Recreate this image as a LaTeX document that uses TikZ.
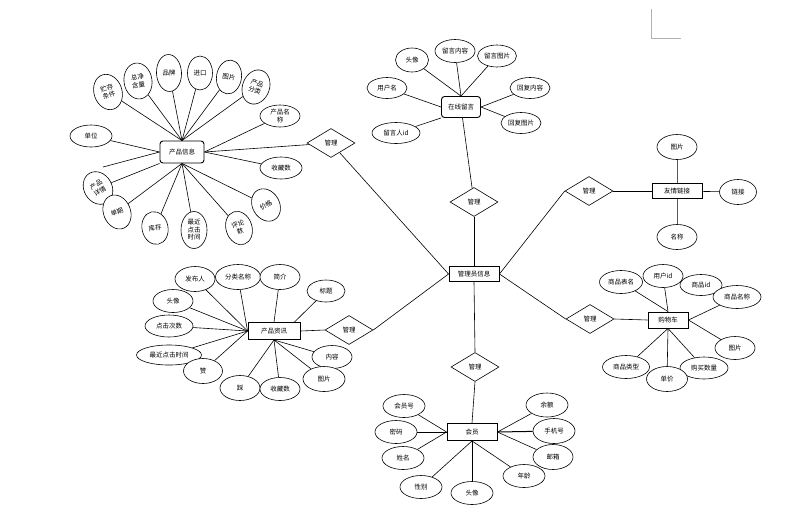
\documentclass[tikz,border=0pt]{standalone}
\usepackage{fontspec}
\newfontfamily\cjk{Noto Sans CJK SC}
\usetikzlibrary{shapes.geometric}
\pgfdeclarelayer{bg}
\pgfsetlayers{bg,main}
\tikzset{
  txt/.style={font=\cjk\fontsize{6.5}{7.5}\selectfont, align=center},
  attr/.style={txt, draw, fill=white, ellipse, line width=0.6pt, inner sep=0pt, minimum width=40pt, minimum height=23pt},
  ent/.style={txt, draw, fill=white, line width=0.9pt, inner sep=0pt, minimum width=50pt, minimum height=15pt},
  rel/.style={txt, draw, fill=white, diamond, aspect=1.6, line width=0.6pt, inner sep=0pt, minimum width=48pt, minimum height=29pt},
  conn/.style={line width=0.6pt, black},
}
\begin{document}
\begin{tikzpicture}[x=1pt,y=-1pt]
\useasboundingbox (0,0) rectangle (794,515);
% page corner mark
\draw[gray!60, line width=0.6pt] (651,9) -- (651,38) -- (681,38);

% ---------- central admin ----------
\node[ent] (ad) at (474,274) {管理员信息};
\node[rel] (r1) at (331,143) {管理};
\node[rel] (r2) at (474,202) {管理};
\node[rel] (r3) at (589,191) {管理};
\node[rel] (r4) at (590,319) {管理};
\node[rel] (r5) at (475,367) {管理};
\node[rel] (r6) at (349,330) {管理};

% ---------- product info ----------
\node[ent, rounded corners=3pt, minimum width=44pt, minimum height=22pt] (pi) at (182,152) {产品信息};
\node[attr, rotate=18, minimum width=28pt, minimum height=36pt] (a1) at (108,92) {贮存\\条件};
\node[attr, rotate=8, minimum width=28pt, minimum height=36pt] (a2) at (138,81) {总净\\含量};
\node[attr, rotate=3, minimum width=25pt, minimum height=37pt] (a3) at (169,73) {品牌};
\node[attr, minimum width=25pt, minimum height=34pt] (a4) at (200,73) {进口};
\node[attr, rotate=-8, minimum width=25pt, minimum height=34pt] (a5) at (229,77) {图片};
\node[attr, rotate=-20, minimum width=27pt, minimum height=35pt] (a6) at (256,87) {产品\\分类};
\node[attr, minimum width=40pt, minimum height=22pt] (a7) at (280,116) {产品名\\称};
\node[attr, minimum width=42pt, minimum height=22pt] (a8) at (91,136) {单位};
\node[attr, minimum width=42pt, minimum height=22pt] (a9) at (281,168) {收藏数};
\node[attr, rotate=30, minimum width=28pt, minimum height=34pt] (a10) at (98,188) {产品\\详情};
\node[attr, rotate=22, minimum width=27pt, minimum height=35pt] (a11) at (117,212) {单期};
\node[attr, rotate=12, minimum width=26pt, minimum height=33pt] (a12) at (155,228) {库存};
\node[attr, minimum width=26pt, minimum height=37pt] (a13) at (194,230) {最近\\点击\\时间};
\node[attr, rotate=18, minimum width=26pt, minimum height=34pt] (a14) at (239,228) {评论\\数};
\node[attr, rotate=30, minimum width=27pt, minimum height=34pt] (a15) at (266,205) {价格};
\coordinate (d1) at (103,167);

% ---------- online messages ----------
\node[ent, rounded corners=3pt, minimum width=39pt, minimum height=21pt] (ol) at (461,107) {在线留言};
\node[attr, minimum width=33pt, minimum height=24pt] (o1) at (412,60) {头像};
\node[attr, minimum width=40pt, minimum height=23pt] (o2) at (455,51) {留言内容};
\node[attr, minimum width=39pt, minimum height=22pt] (o3) at (497,56) {留言图片};
\node[attr, minimum width=40pt, minimum height=21pt] (o4) at (387,88) {用户名};
\node[attr, minimum width=40pt, minimum height=21pt] (o5) at (530,88) {回复内容};
\node[attr, minimum width=40pt, minimum height=21pt] (o6) at (521,123) {回复图片};
\node[attr, minimum width=48pt, minimum height=21pt] (o7) at (396,133) {留言人id};

% ---------- friend links ----------
\node[ent] (fl) at (677,191) {友情链接};
\node[attr, minimum height=25pt] (f1) at (677,147) {图片};
\node[attr, minimum width=37pt, minimum height=25pt] (f2) at (738,192) {链接};
\node[attr, minimum height=25pt] (f3) at (677,237) {名称};

% ---------- shopping cart ----------
\node[ent, minimum width=40pt, minimum height=16pt] (ct) at (668,320) {购物车};
\node[attr, minimum width=43pt] (c1) at (621,282) {商品表名};
\node[attr] (c2) at (663,276) {用户id};
\node[attr, minimum width=42pt, minimum height=21pt] (c3) at (701,285) {商品id};
\node[attr, minimum width=48pt] (c4) at (737,297) {商品名称};
\node[attr] (c5) at (735,348) {图片};
\node[attr, minimum width=48pt, minimum height=22pt] (c6) at (704,368) {购买数量};
\node[attr, minimum width=41pt, minimum height=25pt] (c7) at (667,379) {单价};
\node[attr, minimum width=47pt] (c8) at (626,367) {商品类型};

% ---------- member ----------
\node[ent, minimum height=17pt] (mb) at (472,432) {会员};
\node[attr, minimum width=42pt] (m1) at (404,406) {会员号};
\node[attr, minimum width=42pt] (m2) at (396,432) {密码};
\node[attr, minimum width=42pt] (m3) at (403,458) {姓名};
\node[attr, minimum width=42pt] (m4) at (421,487) {性别};
\node[attr, minimum width=42pt] (m5) at (472,493) {头像};
\node[attr, minimum width=42pt] (m6) at (524,476) {年龄};
\node[attr, minimum width=40pt, minimum height=25pt] (m7) at (553,457) {邮箱};
\node[attr, minimum width=42pt, minimum height=25pt] (m8) at (554,431) {手机号};
\node[attr, minimum width=42pt, minimum height=24pt] (m9) at (547,405) {余额};

% ---------- product news ----------
\node[ent, minimum width=52pt, minimum height=17pt] (pr) at (274,331) {产品资讯};
\node[attr, minimum height=25pt] (n1) at (195,279) {发布人};
\node[attr, minimum width=45pt, minimum height=25pt] (n2) at (238,277) {分类名称};
\node[attr, minimum height=25pt] (n3) at (280,277) {简介};
\node[attr, minimum width=38pt, minimum height=22pt] (n4) at (326,291) {标题};
\node[attr] (n5) at (173,301) {头像};
\node[attr, minimum width=48pt, minimum height=22pt] (n6) at (169,326) {点击次数};
\node[attr, minimum width=65pt, minimum height=20pt] (n7) at (169,355) {最近点击时间};
\node[attr, minimum width=39pt, minimum height=25pt] (n8) at (203,371) {赞};
\node[attr, minimum height=25pt] (n9) at (240,388) {踩};
\node[attr] (n10) at (280,389) {收藏数};
\node[attr, minimum width=40pt, minimum height=23pt] (n12) at (332,357) {内容};
\node[attr, minimum width=42pt, minimum height=25pt] (n11) at (324,379) {图片};

\begin{pgfonlayer}{bg}
% admin relations
\draw[conn] (pi.east) -- (r1);
\draw[conn] (r1) -- (ad.west);
\draw[conn] (ol) -- (r2);
\draw[conn] (r2) -- (ad);
\draw[conn] (ad.east) -- (r3.west);
\draw[conn] (r3.east) -- (fl.west);
\draw[conn] (ad.east) -- (r4.west);
\draw[conn] (r4.east) -- (ct.west);
\draw[conn] (ad.south) -- (r5.north);
\draw[conn] (r5.south) -- (mb.north);
\draw[conn] (pr.east) -- (r6.west);
\draw[conn] (r6.east) -- (ad.west);
% product info
\foreach \a in {a1,a2,a3,a4,a5,a6} \draw[conn] (\a) -- (pi.north);
\foreach \a in {a11,a12,a13,a14,a15} \draw[conn] (\a) -- (pi.south);
\draw[conn] (a7) -- (pi.east);
\draw[conn] (a9) -- (pi.east);
\draw[conn] (a8) -- (pi.west);
\draw[conn] (d1) -- (pi.west);
\draw[conn] (a10) -- (pi.south west);
% online messages
\foreach \a in {o1,o2,o3} \draw[conn] (\a) -- (ol.north);
\draw[conn] (o4) -- (ol.west);
\draw[conn] (o5) -- (ol.east);
\draw[conn] (o6) -- (ol.east);
\draw[conn] (o7) -- (ol.south west);
% friend links
\draw[conn, line width=1pt, gray!70!black] (f1) -- (fl);
\draw[conn] (f2) -- (fl);
\draw[conn, line width=1pt, gray!70!black] (f3) -- (fl);
% cart
\draw[conn] (c1) -- (ct.north);
\draw[conn] (c2) -- (ct.north);
\draw[conn] (c4) -- (ct.east);
\draw[conn] (c5) -- (ct.east);
\draw[conn] (c6) -- (ct.south);
\draw[conn] (c7) -- (ct.south);
\draw[conn] (c8) -- (ct.south);
% member
\draw[conn] (m1) -- (mb.west);
\draw[conn, line width=1pt] (m2) -- (mb.west);
\draw[conn] (m3) -- (mb.west);
\draw[conn] (m4) -- (mb.south);
\draw[conn] (m5) -- (mb.south);
\draw[conn] (m6) -- (mb.south);
\draw[conn] (m7) -- (mb.east);
\draw[conn, line width=1pt] (m8) -- (mb.east);
\draw[conn] (m9) -- (mb.east);
% product news
\foreach \a in {n1,n2,n5,n6,n7,n8} \draw[conn] (\a) -- (pr.west);
\draw[conn] (n3) -- (pr.north);
\draw[conn] (n4) -- ([xshift=-6pt]pr.north east);
\foreach \a in {n9,n10,n11,n12} \draw[conn] (\a) -- (pr.south);
\end{pgfonlayer}
\end{tikzpicture}
\end{document}
